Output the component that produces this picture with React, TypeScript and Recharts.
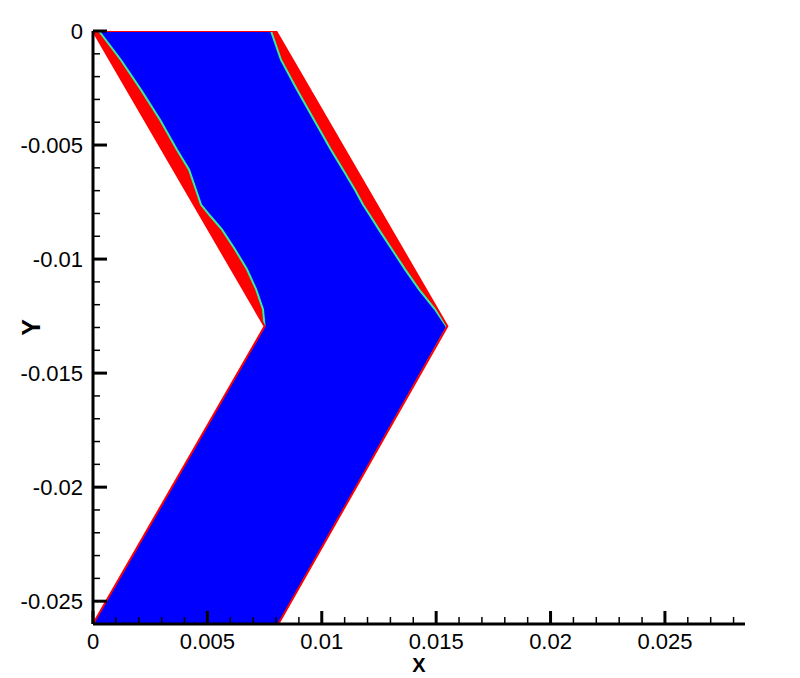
import { Area, ComposedChart, Line, XAxis, YAxis } from "recharts";

// Outer boundary of the channel, walked round in order
const outline = [
  { y: 0, x: 0 },
  { y: -0.01295, x: 0.0075 },
  { y: -0.026, x: 0 },
  { y: -0.026, x: 0.0081 },
  { y: -0.01295, x: 0.01549 },
  { y: 0, x: 0.008 },
  { y: 0, x: 0 },
];

// Upper half of the channel (red phase underneath)
const upperBand = [
  { y: 0, l: 0, r: 0.008 },
  { y: -0.01295, l: 0.0075, r: 0.01549 },
];

// Interface between the phases in the upper half: left and right
const interfaceRows = [
  { y: 0, il: 0.00026, ir: 0.00778 },
  { y: -0.00127, il: 0.00122, ir: 0.00822 },
  { y: -0.00258, il: 0.0021, ir: 0.00892 },
  { y: -0.00389, il: 0.00293, ir: 0.00966 },
  { y: -0.00521, il: 0.00367, ir: 0.0104 },
  { y: -0.00608, il: 0.0042, ir: 0.01093 },
  { y: -0.00696, il: 0.0045, ir: 0.01145 },
  { y: -0.00761, il: 0.00472, ir: 0.0118 },
  { y: -0.00809, il: 0.00511, ir: 0.01211 },
  { y: -0.00871, il: 0.00564, ir: 0.0125 },
  { y: -0.00958, il: 0.00621, ir: 0.01307 },
  { y: -0.01045, il: 0.00673, ir: 0.01364 },
  { y: -0.01133, il: 0.00713, ir: 0.01425 },
  { y: -0.0122, il: 0.00743, ir: 0.01495 },
  { y: -0.01295, il: 0.0075, ir: 0.01545 },
];

// Bottom edge of the channel (lower half is all blue)
const bottomRow = { y: -0.026, il: 0, ir: 0.0081 };

const xMajor = [0, 0.005, 0.01, 0.015, 0.02, 0.025];
const xMinor = [
  0.001, 0.002, 0.003, 0.004, 0.006, 0.007, 0.008, 0.009, 0.011, 0.012, 0.013,
  0.014, 0.016, 0.017, 0.018, 0.019, 0.021, 0.022, 0.023, 0.024, 0.026, 0.027,
  0.028,
];
const yMajor = [0, -0.005, -0.01, -0.015, -0.02, -0.025];
const yMinor = [
  -0.001, -0.002, -0.003, -0.004, -0.006, -0.007, -0.008, -0.009, -0.011,
  -0.012, -0.013, -0.014, -0.016, -0.017, -0.018, -0.019, -0.021, -0.022,
  -0.023, -0.024, -0.026,
];

const FONT = "'Liberation Sans', Arial, sans-serif";
const BLUE = "#0000ff";
const RED = "#ff0000";

const isMajor = (v: number, majors: number[]) =>
  majors.some((m) => Math.abs(m - v) < 1e-9);

function XTick(props: any) {
  const { x, y, payload } = props;
  const major = isMajor(payload.value, xMajor);
  return (
    <g>
      <line
        x1={x}
        x2={x}
        y1={y}
        y2={y - (major ? 13 : 7)}
        stroke="#000"
        strokeWidth={major ? 3 : 1.5}
      />
      {major && (
        <text x={x} y={y + 25} textAnchor="middle" fontSize={22} fontFamily={FONT} fill="#000">
          {String(payload.value)}
        </text>
      )}
    </g>
  );
}

function YTick(props: any) {
  const { x, y, payload } = props;
  const major = isMajor(payload.value, yMajor);
  return (
    <g>
      <line
        x1={x}
        x2={x + (major ? 14 : 7)}
        y1={y}
        y2={y}
        stroke="#000"
        strokeWidth={major ? 3 : 1.5}
      />
      {major && (
        <text x={x - 10} y={y + 8} textAnchor="end" fontSize={22} fontFamily={FONT} fill="#000">
          {String(payload.value)}
        </text>
      )}
    </g>
  );
}

export default function App() {
  return (
    <div style={{ width: 800, height: 678 }}>
      <style>{"body{margin:0;overflow:hidden}"}</style>
      <ComposedChart
        width={800}
        height={678}
        layout="vertical"
        margin={{ top: 31, right: 55, bottom: 0, left: 0 }}
      >
        <Area
          data={upperBand}
          dataKey={(d: any) => [d.l, d.r]}
          type="linear"
          fill={RED}
          fillOpacity={1}
          stroke="none"
          isAnimationActive={false}
          dot={false}
          activeDot={false}
        />
        <Area
          data={[...interfaceRows, bottomRow]}
          dataKey={(d: any) => [d.il, d.ir]}
          type="linear"
          fill={BLUE}
          fillOpacity={1}
          stroke="none"
          isAnimationActive={false}
          dot={false}
          activeDot={false}
        />
        <Line
          data={interfaceRows}
          dataKey="il"
          type="linear"
          stroke="#30f0a0"
          strokeWidth={2}
          dot={false}
          activeDot={false}
          isAnimationActive={false}
        />
        <Line
          data={interfaceRows}
          dataKey="ir"
          type="linear"
          stroke="#30f0a0"
          strokeWidth={2}
          dot={false}
          activeDot={false}
          isAnimationActive={false}
        />
        <Line
          data={outline}
          dataKey="x"
          type="linear"
          stroke={RED}
          strokeWidth={2}
          dot={false}
          activeDot={false}
          isAnimationActive={false}
        />
        <XAxis
          type="number"
          dataKey="x"
          domain={[0, 0.0285]}
          allowDataOverflow
          ticks={[...xMajor, ...xMinor]}
          interval={0}
          height={54}
          tickSize={0}
          tickMargin={0}
          tickLine={false}
          axisLine={{ stroke: "#000", strokeWidth: 3 }}
          tick={<XTick />}
          label={{
            content: (p: any) => (
              <text
                x={p.viewBox.x + p.viewBox.width / 2}
                y={p.viewBox.y + 48}
                textAnchor="middle"
                fontSize={20}
                fontWeight="bold"
                fontFamily={FONT}
              >
                X
              </text>
            ),
          }}
        />
        <YAxis
          type="number"
          dataKey="y"
          domain={[-0.026, 0]}
          reversed
          allowDataOverflow
          ticks={[...yMajor, ...yMinor]}
          interval={0}
          width={93}
          tickSize={0}
          tickMargin={0}
          tickLine={false}
          axisLine={{ stroke: "#000", strokeWidth: 3 }}
          tick={<YTick />}
          label={{
            content: (p: any) => {
              const cx = 31;
              const cy = p.viewBox.y + p.viewBox.height / 2;
              return (
                <text
                  x={cx}
                  y={cy}
                  transform={`rotate(-90 ${cx} ${cy})`}
                  textAnchor="middle"
                  dominantBaseline="central"
                  fontSize={25}
                  fontWeight="bold"
                  fontFamily={FONT}
                >
                  Y
                </text>
              );
            },
          }}
        />
      </ComposedChart>
    </div>
  );
}
